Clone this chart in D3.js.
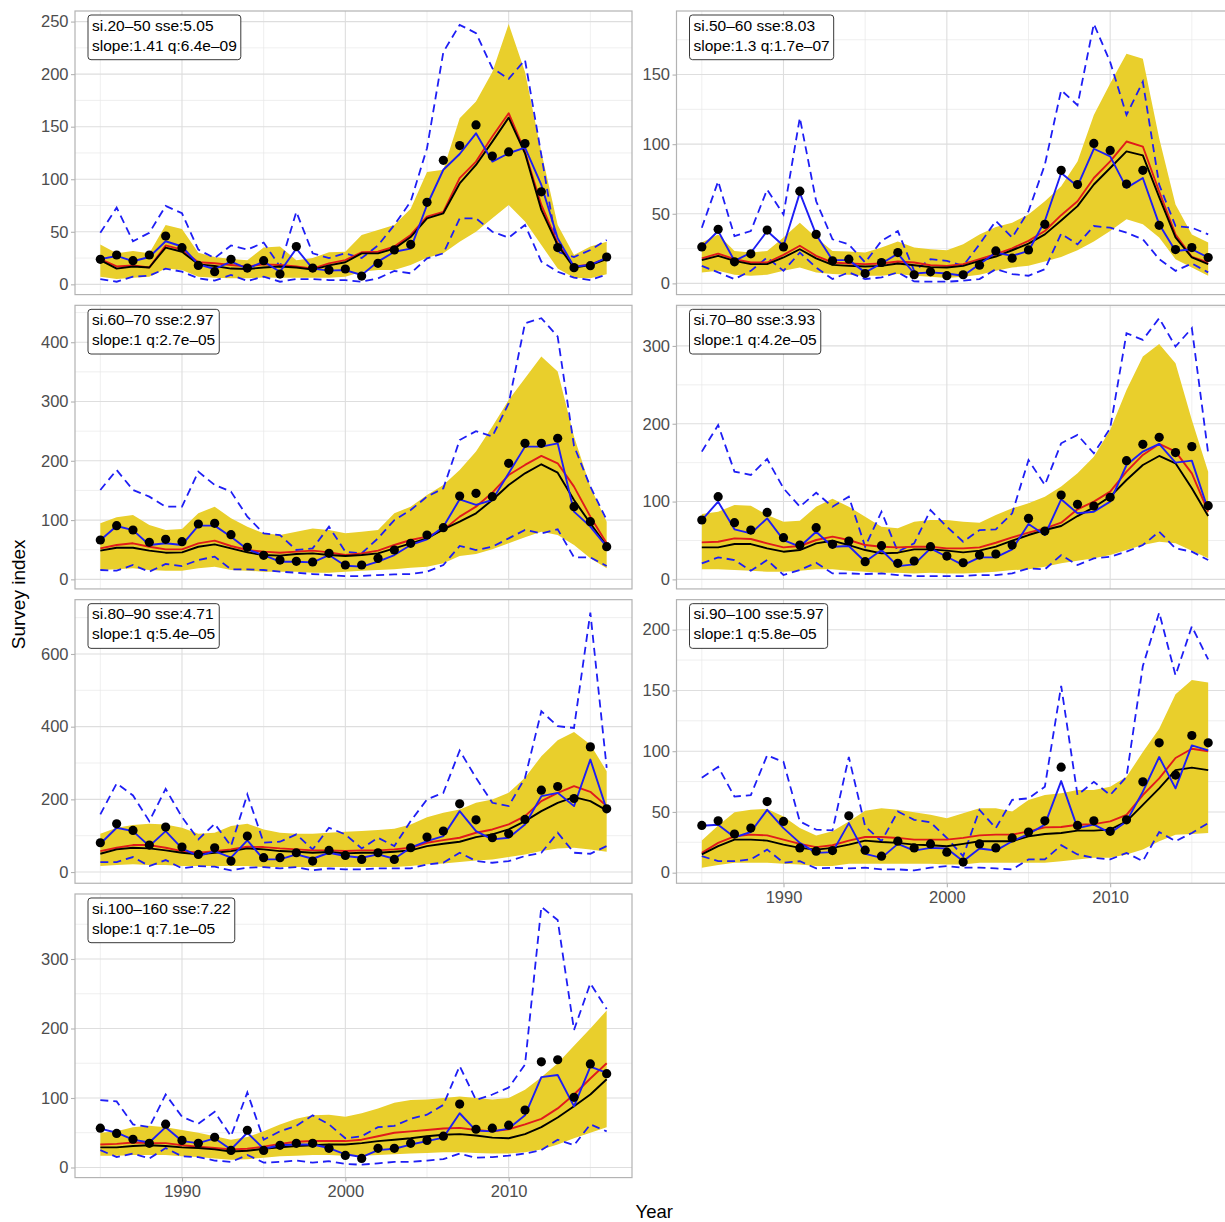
<!DOCTYPE html>
<html>
<head>
<meta charset="utf-8">
<script src="https://cdn.jsdelivr.net/npm/d3@7"></script>
<style>
  html, body { margin: 0; padding: 0; background: #fff; }
  svg { display: block; font-family: "Liberation Sans", Arial, Helvetica, sans-serif; }
</style>
</head>
<body>
<svg id="chart" width="1225" height="1222"></svg>
<script>
// Survey years (x categories)
const years = [1985, 1986, 1987, 1988, 1989, 1990, 1991, 1992, 1993, 1994, 1995, 1996, 1997, 1998, 1999,
               2000, 2001, 2002, 2003, 2004, 2005, 2006, 2007, 2008, 2009, 2010, 2011, 2012, 2013, 2014, 2015, 2016];

// Panel annotations
const labelLine1 = ["si.20–50 sse:5.05", "si.50–60 sse:8.03", "si.60–70 sse:2.97", "si.70–80 sse:3.93",
                    "si.80–90 sse:4.71", "si.90–100 sse:5.97", "si.100–160 sse:7.22"];
const labelLine2 = ["slope:1.41 q:6.4e–09", "slope:1.3 q:1.7e–07", "slope:1 q:2.7e–05", "slope:1 q:4.2e–05",
                    "slope:1 q:5.4e–05", "slope:1 q:5.8e–05", "slope:1 q:7.1e–05"];

// Y-axis breaks per panel
const yTicks1 = [0, 50, 100, 150, 200, 250];
const yTicks2 = [0, 50, 100, 150];
const yTicks3 = [0, 100, 200, 300, 400];
const yTicks4 = [0, 100, 200, 300];
const yTicks5 = [0, 200, 400, 600];
const yTicks6 = [0, 50, 100, 150, 200];
const yTicks7 = [0, 100, 200, 300];

// X-axis breaks
const xMajor = [1990, 2000, 2010];
const xMinor = [1985, 1995, 2005, 2015];

// si.20-50
const obs1 = [23.8,27.9,22.5,27.9,46,34.9,18,12,23.8,15.5,22.5,9.8,35.9,15.5,13.6, 14.6,7.9,20,32.7,38,78,118,132,151.7,122,126,134,88,35,15.9,17.8,26];
const fit1 = [24,27,22,26,41,36,19,14.6,21.6,15,21.6,12,34,15,13, 13.6,8.9,21.6,31,34,75.5,109,124,143.7,116.8,124.7,130,94.6,43.8,16.8,18.4,25.4];
const red1 = [24,17,18,16,37,33,21,20,18.4,17,19,18.4,17,15,20, 23,30.5,31,35.9,47,64.4,69,101,116.8,140.6,162.8,126,75.5,39,16.8,19,24.7];
const black1 = [23,15,17,16,35,31,19,17.5,15,14.6,16,17,16,14,18, 21,29.5,29.5,34,45,62.8,67.6,96,113.6,135.8,158.6,124.7,70.8,37.4,15.9,18.4,24];
const bandHi1 = [38,29.5,31.7,29.5,56.5,52.7,30,26,24,23,35,36,23,25,30.5, 31,47,51.7,56.5,72,107,109,158,174,202,247.8,202,126,56.5,27.9,35.9,40.6];
const bandLo1 = [7.3,5,6.3,7.3,15,13.6,7.3,6.3,5.7,5.7,6.5,6.3,6.3,6.3,6.3, 7.3,12,13.6,13.6,18.4,25.4,29.5,40.6,50,62.8,75.5,59.7,37.4,15,6.3,5.7,9.5];
const dashHi1 = [49,73,41,49,74.6,67.6,33,25,37,33,39.7,17,69,29.5,25, 29.5,25,37,56.5,78.7,129.5,221,246.9,239,205.6,195.5,213.5,123,31,26,32.7,42.2];
const dashLo1 = [5,2.5,7.3,8.2,15,12,5.7,3.5,8.9,3.2,7.3,2.5,5,5,4, 4,2.5,5.7,12.7,10.5,24.7,29.5,62.8,62.8,50,44.4,56.5,21.6,12,6.3,4,9.5];

// si.50-60
const obs2 = [26.2,38.8,15.5,21.2,38.3,26.2,66.2,35.2,16.2,17.4,7.1,15,22.1,6.2,8.3, 5.5,6.2,13.1,23.3,18.1,24,42.4,81.2,71,100.5,95.5,71.4,81.2,41.7,24.3,25.7,18.6];
const fit2 = [26,37.6,16.2,22,37.6,27,65,35,16.7,16.7,7.9,14.3,21.4,7.1,7.9, 7.1,5.5,13.8,22.1,19.8,23.3,44.8,79.3,69.8,96.7,91.2,68.6,75.7,42.4,23.3,24.5,18.6];
const red2 = [18,21.4,17.4,15,15,20.5,27,19.8,15,14.3,13.8,14.3,15.7,15,13, 12.6,13.8,17.4,21,25.2,30.5,37.6,49,59,75.7,87.6,101.9,98.3,66,35,19,15];
const black2 = [16.7,19.8,16.2,13.8,13.8,18.6,24.5,18,13.3,12.6,12.1,12.6,14.3,13,11.7, 11.4,12.6,16.2,19.3,23.8,28.6,35.2,45.2,55.5,71,82.9,94.8,91.9,62,33,18.6,13.8];
const bandHi2 = [29.3,35.2,23.3,22.1,23.3,32.9,43.6,32.9,23.3,22.9,22.1,25.7,30,25.7,24.5, 23.8,28.1,35.2,40.5,43.6,49.5,59,69.8,87.6,121,143.6,165,161.4,104.3,56.7,35.2,29.3];
const bandLo2 = [7.9,9,6.2,5.5,6.2,9,11.4,7.9,6.7,6.2,5.5,5.5,6.7,5.5,4.8, 3.8,4.8,6.2,9,11.4,12.6,15.7,19,23.8,30,37.6,46,42.4,32.9,17.4,11.4,5.5];
const dashHi2 = [40,73.3,34,37.6,67.4,49.5,119,59,31.7,28,15,30.5,37.6,9,17.4, 16.2,12.6,28.1,44.8,32.9,51.9,85.2,138.8,128,186.4,159,121,144.8,71,41.2,40,35.2];
const dashLo2 = [12.6,7.9,3.1,9,18.6,9,22.1,11.4,3.1,7.9,3.1,4.3,7.9,1.4,1.2, 1.2,1.9,3.1,10.2,6.7,5.5,10.2,35.7,28.1,41.2,40,36.4,31.7,17.4,9,14.3,7.9];

// si.60-70
const obs3 = [66.4,90.6,83.3,62.4,67.5,63.6,93.4,94.5,75.4,54,40.5,32.6,30.4,29.3,43.9, 24.2,24.2,35.4,49.5,60.8,74.8,87.2,140.6,145.1,139.5,195.8,229.5,229.5,238,122.6,97.3,55.1];
const fit3 = [66,90,83,58,60.8,58,90.6,90.6,72,50.6,41,29.8,29.8,28.7,41, 23,21.4,29.8,41,58,67.5,88.9,135,125.5,133.9,178.9,223.9,223.9,229.5,114.2,88.9,55.1];
const red3 = [52.3,58,60.8,55,50.6,50.6,60.8,65.3,56.3,49.5,46.7,45,46.7,48.4,45.6, 41,43.9,48.4,58,66.4,72,83.3,105.8,122.6,146.3,176,193,208.2,195.8,156.4,105.8,60.8];
const black3 = [48.4,53.4,53.4,48.4,45,45.6,55,59,52.3,45.6,41,40,42.8,43.9,41, 39.4,41,43.9,52.3,60.8,69.2,84.4,97.3,111.4,133.9,159.2,178.9,194.1,180,133.9,94.5,56.3];
const bandHi3 = [94.5,104.6,108.6,91.7,83.3,85,111.4,122.6,103,88.9,77.6,74.8,80.5,86,83.3, 77.6,80.5,83.3,111.4,122.6,142.3,159.2,184.5,215.5,257.7,302.7,339.2,375.8,350.5,240.8,156.4,97.3];
const bandLo3 = [15.8,16.9,18.6,15.8,14.6,14.6,18.6,21.4,15.8,14.6,12.9,12.9,12.9,11.3,11.3, 12.9,14.6,15.8,16.9,19.7,21.4,27,39.4,42.8,50.6,60.8,70.9,80.5,74.8,58,35.4,18.6];
const dashHi3 = [150.8,184.5,150.8,139.5,122.6,122.6,181.7,159.2,148,105.8,77.6,74.8,49.5,52.3,88.9, 46.7,43.9,69.2,100,117,139.5,153.6,235,250,241,297,432,440.5,409.6,225,156.4,100.1];
const dashLo3 = [15.8,14.6,24.2,12.9,25.9,22.5,32.6,38.3,16.9,16.9,15.8,12.9,11.3,9,7.3, 5.6,5.6,7.3,8.4,9,12.9,24.2,56.3,49.5,55,69.2,83.3,77.6,84.4,37.1,37.1,22.5];

// si.70-80
const obs4 = [76.3,106.3,72.9,63.4,86.1,53.6,44.1,66.4,45,49.3,22.7,43.3,20.6,23.6,42, 30,21.4,31.3,32.6,44.1,78.4,62.1,108.4,96.4,94.3,105.4,152.6,173.6,182.6,162.9,170.6,94.7];
const fit4 = [76.3,99.9,64.3,59.1,78.4,50.6,42,61.3,42,42.9,22.7,37.7,17.1,19.3,39.9, 29.1,18.4,28.3,28.3,38.6,71.2,57,102.9,84.9,87,99.9,147,164.2,174,150,152.6,89.2];
const red4 = [47.6,48.4,52.7,51.9,46.3,41.1,42.9,50.6,54.9,50.6,44.1,42,41.1,42,42, 39.9,39.9,41.1,47.1,54,60,65.6,72.9,90,99.9,112.7,138.4,159.9,174,164.2,136.3,87];
const black4 = [41.1,41.1,45.4,45.4,39.9,35.6,37.7,46.3,49.7,44.1,37.7,33.4,34.3,38.6,38.6, 36.9,34.7,36.9,42,49.7,57,63.4,68.6,81.4,92.6,106.3,127.7,147,158.6,149.2,117,81.4];
const bandHi4 = [84,87,95.6,94.7,82.7,74.2,75.4,93.4,103.7,93.4,80.6,67.7,65.6,74.2,76.3, 76.3,74.2,72.9,82.7,91.3,97.7,106.3,119.2,136.3,157.7,192,243.5,286.3,302.6,277.8,204.9,138.4];
const bandLo4 = [12.9,12.9,12,11.1,9.9,9.9,11.1,12.9,12.9,11.1,9.9,8.6,8.6,7.7,8.6, 7.7,7.7,8.6,9.9,12,12.9,16.3,20.6,24,27,31.3,37.7,44.1,48.4,46.3,36.9,27];
const dashHi4 = [164.2,198.4,138.4,134.2,154.7,117,93.4,111.4,93.4,106.3,42,87,35.6,46.3,89, 67.7,48.4,63.4,64.3,84.9,153.4,121.3,174.9,185.6,162,194.2,316.3,307.8,335.6,299.2,322.8,162];
const dashLo4 = [20.6,28.3,24.9,11.1,24.9,5.6,12,21.4,7.7,7.7,6.9,7.7,5.6,4.3,4.3, 4.3,4.3,5.6,5.6,7.7,14.1,12.9,31.3,18.4,27,29.1,35.6,44.1,61.3,39.9,35.6,24.9];

// si.80-90
const obs5 = [80.6,132.8,114.5,74.2,123.7,68.7,48.5,66.9,30.2,98.9,39.4,39.4,53.1,30.2,59.5, 45.8,34.8,53.1,34.8,66.9,96.2,112.7,187.8,143.8,94.3,105.3,144.7,225.3,235.4,202.4,344.4,174];
const fit5 = [77.9,121.8,112.7,71.4,112.7,65,44,57.7,39.4,87,34.8,34.8,48.5,36.6,53.1, 44,39.4,48.5,36.6,66.9,85.2,98.9,167.6,112.7,89.8,94.3,131,208.8,218,181.4,309.6,172.2];
const red5 = [57.7,66.9,74.2,74.2,66.9,57.7,53.1,57.7,62.3,69.6,68.7,65,62.3,59.5,59.5, 57.7,59.5,59.5,62.3,66.9,80.6,87.9,94.3,108.1,117.2,131,153.9,195.1,218,236.3,220.8,181.4];
const black5 = [50.4,62.3,66.9,65,59.5,53.1,48.5,53.1,57.7,65,62.3,57.7,55.9,53.1,55, 51.3,53.1,53.1,55.9,59.5,71.4,77.9,83.4,96.2,103.5,117.2,140.1,167.6,190.5,206.1,195.1,169.5];
const bandHi5 = [105.3,121.8,129.2,132.8,131,121.8,105.3,108.1,126.4,132.8,117.2,108.1,105.3,105.3,108.1, 110.8,112.7,115.4,119.1,131,151.1,163,172.2,190.5,199.7,218,259.2,318.8,362.7,385.6,350.8,277.5];
const bandLo5 = [16.5,19.2,21.1,19.2,19.2,16.5,16.5,16.5,16.5,16.5,13.7,13.7,13.7,13.7,13.7, 13.7,13.7,13.7,13.7,16.5,21.1,23.8,27.5,32.1,34.8,41.2,48.5,57.7,65,66.9,62.3,55.9];
const dashHi5 = [158.5,243.7,210.7,140.1,229,151.1,89.8,132.8,71.4,213.4,80.6,83.4,103.5,62.3,121.8, 103.5,65,94.3,71.4,140.1,199.7,218,334.3,259.2,190.5,181.4,259.2,442.4,401.2,396.6,714,286.7];
const dashLo5 = [27.5,27.5,41.2,16.5,33,10.1,16.5,14.7,4.6,11.9,13.7,10.1,13.7,4.6,10.1, 7.3,7.3,10.1,10.1,10.1,21.1,25.6,53.1,30.2,25.6,30.2,44,53.1,108.1,53.1,50.4,71.4];

// si.90-100
const obs6 = [38.9,42.7,31.8,36.7,58.5,42.2,20.4,17.7,18.2,46.8,18.5,13.6,25.9,20.4,23.7, 16.9,8.7,23.7,20.4,28.6,33.5,42.7,86.8,38.9,42.7,34,43.5,74.8,106.9,80.3,112.9,106.9];
const fit6 = [38.6,39.5,29.1,33.5,51.7,36.7,24.5,16.3,16.9,40.8,15.5,12.2,23.7,18.2,20.4, 19.9,9.5,19.9,18.2,25.9,31.8,39.5,75.4,36.7,39.5,32.7,42.2,66.7,95.2,69.4,104.8,100.7];
const red6 = [16.3,24.5,29.9,31.3,30.7,27.2,23.7,21,22.6,26.4,29.4,29.4,28.6,27.2,27.2, 27.2,28.6,30.7,31.3,31.3,34,37.3,37.6,39.5,40,42.2,47.6,63.9,77.6,94.4,102,99.9];
const black6 = [15,21.8,27.2,27.2,26.4,23.1,20.4,19,20.4,23.1,26.4,25.3,24.5,23.1,22.6, 21.8,23.7,25.9,25.9,25.9,29.9,31.8,32.7,34.6,34.6,35.4,42.2,55.8,69.4,84.4,86.5,84.4];
const bandHi6 = [26.4,38.9,49.8,51.7,52.5,46.3,36.7,30.7,34,42.2,50.9,53.1,51.7,49.8,47.6, 44.9,49,53.1,53.1,50.3,59.9,63.9,65.3,68,68,70.7,78.9,99.3,118.4,146.9,158.6,156.5];
const bandLo6 = [4.1,6.3,8.2,8.2,8.2,7.3,6.8,5.4,5.4,7.3,7.3,7.3,7.3,7.3,7.3, 6.8,6.8,8.2,8.2,8.2,8.2,8.2,9.5,10.9,12.2,12.2,15,19,25.9,31.3,31.8,32.7];
const dashHi6 = [78.1,87.1,62.6,63.9,96.6,91.2,42.2,35.4,34.8,95.2,38.1,25.9,50.3,43.5,41.4, 28.6,13.6,51.7,36.7,59.9,61.2,70.7,153.7,63.9,74.8,63.9,78.9,170.1,214.1,162.4,202.7,175.5];
const dashLo6 = [13.6,9.5,9.5,10.9,19,8.2,9.5,3.5,4.1,3.5,4.1,2.7,2.7,1.9,4.1, 5.4,4.1,4.1,3.5,2.7,10.9,10.9,22.6,15,12.2,10.9,16.3,9.5,33.5,25.9,32.7,40.8];

// si.100-160
const obs7 = [56.5,49,40.6,34.8,62.3,39,34.8,43.5,24.6,53.6,24.6,31.9,34.8,34.8,27.5, 17.4,13,27.5,27.5,34.8,39,45,91.3,55,56.5,60.9,82.6,152,155,101,149,135];
const fit7 = [56,50,40,36,58,38,35,42,26,50,27,32,33,33,28, 19,15,25,27,33,38,43,78,53,52,56,75,130,133,88,145,136];
const red7 = [33,34,36,35,35,32,30,28,26,27,30,34,37,38,38, 38,40,45,50,52,54,56,57,54,52,55,62,70,85,105,128,150];
const black7 = [29,29,31,32,31,29,28,26,23,24,27,29,31,32,33, 33,35,38,40,42,45,47,48,46,43,42,48,58,72,88,105,127];
const bandHi7 = [50,52,58,60,58,54,50,45,40,44,52,62,70,75,76, 73,78,85,93,97,98,100,102,100,98,100,112,130,150,175,200,226];
const bandLo7 = [17,17,18,18,18,16,15,13,11,12,14,16,17,18,18, 17,17,18,19,20,21,22,22,21,20,20,22,26,33,42,50,58];
const dashHi7 = [97,95,62,58,105,73,63,80,45,108,40,52,60,75,62, 42,45,58,60,70,76,90,146,97,105,115,148,375,356,198,265,228];
const dashLo7 = [25,15,20,13,28,16,15,10,8,18,7,8,10,7,9, 5,4,6,8,8,10,12,20,14,15,17,20,25,40,32,62,52];

// Assemble panel table from the arrays above
const panels = [
  { l1: labelLine1[0], l2: labelLine2[0], ticks: yTicks1, obs: obs1, fit: fit1, red: red1, black: black1, bandHi: bandHi1, bandLo: bandLo1, dashHi: dashHi1, dashLo: dashLo1 },
  { l1: labelLine1[1], l2: labelLine2[1], ticks: yTicks2, obs: obs2, fit: fit2, red: red2, black: black2, bandHi: bandHi2, bandLo: bandLo2, dashHi: dashHi2, dashLo: dashLo2 },
  { l1: labelLine1[2], l2: labelLine2[2], ticks: yTicks3, obs: obs3, fit: fit3, red: red3, black: black3, bandHi: bandHi3, bandLo: bandLo3, dashHi: dashHi3, dashLo: dashLo3 },
  { l1: labelLine1[3], l2: labelLine2[3], ticks: yTicks4, obs: obs4, fit: fit4, red: red4, black: black4, bandHi: bandHi4, bandLo: bandLo4, dashHi: dashHi4, dashLo: dashLo4 },
  { l1: labelLine1[4], l2: labelLine2[4], ticks: yTicks5, obs: obs5, fit: fit5, red: red5, black: black5, bandHi: bandHi5, bandLo: bandLo5, dashHi: dashHi5, dashLo: dashLo5 },
  { l1: labelLine1[5], l2: labelLine2[5], ticks: yTicks6, obs: obs6, fit: fit6, red: red6, black: black6, bandHi: bandHi6, bandLo: bandLo6, dashHi: dashHi6, dashLo: dashLo6 },
  { l1: labelLine1[6], l2: labelLine2[6], ticks: yTicks7, obs: obs7, fit: fit7, red: red7, black: black7, bandHi: bandHi7, bandLo: bandLo7, dashHi: dashHi7, dashLo: dashLo7 }
];

// ---- layout ----
const svg = d3.select("#chart");
const panelW = 557, panelH = 283.6;
const colX = [75, 676.5];
const rowY = r => 11 + r * 294.33;
const nCols = 2, nRows = 4;
const FONT = "Liberation Sans, Arial, Helvetica, sans-serif";

const COLORS = {
  band: "#E9CF2C",
  blue: "#1E1EF5",
  red: "#E01B1B",
  black: "#000000",
  gridMajor: "#DEDEDE",
  gridMinor: "#E8E8E8",
  border: "#B3B3B3",
  axisText: "#4D4D4D"
};

const yrMin = d3.min(years), yrMax = d3.max(years);
const yrPad = (yrMax - yrMin) * 0.05;

panels.forEach((p, i) => {
  const col = i % nCols, row = Math.floor(i / nCols);
  const left = colX[col], top = rowY(row);
  const bottom = top + panelH, right = left + panelW;

  const x = d3.scaleLinear().domain([yrMin - yrPad, yrMax + yrPad]).range([left, right]);
  const allVals = [].concat(p.obs, p.fit, p.red, p.black, p.bandHi, p.bandLo, p.dashHi, p.dashLo);
  const [vMin, vMax] = d3.extent(allVals);
  const vPad = (vMax - vMin) * 0.05;
  const y = d3.scaleLinear().domain([vMin - vPad, vMax + vPad]).range([bottom, top]);

  const g = svg.append("g").attr("class", "panel");

  // background
  g.append("rect").attr("x", left).attr("y", top).attr("width", panelW).attr("height", panelH).attr("fill", "#fff");

  // minor y grid: midway between breaks, within limits
  const step = p.ticks[1] - p.ticks[0];
  const yMinor = [];
  for (let v = p.ticks[0] - step / 2; v <= p.ticks[p.ticks.length - 1] + step / 2 + 1e-9; v += step) {
    if (v >= y.domain()[0] && v <= y.domain()[1]) yMinor.push(v);
  }
  const grid = g.append("g").attr("class", "grid");
  grid.selectAll("line.ymin").data(yMinor).join("line").attr("class", "ymin")
    .attr("x1", left).attr("x2", right).attr("y1", d => y(d)).attr("y2", d => y(d))
    .attr("stroke", COLORS.gridMinor).attr("stroke-width", 0.7);
  grid.selectAll("line.xmin").data(xMinor).join("line").attr("class", "xmin")
    .attr("y1", top).attr("y2", bottom).attr("x1", d => x(d)).attr("x2", d => x(d))
    .attr("stroke", COLORS.gridMinor).attr("stroke-width", 0.7);
  grid.selectAll("line.ymaj").data(p.ticks).join("line").attr("class", "ymaj")
    .attr("x1", left).attr("x2", right).attr("y1", d => y(d)).attr("y2", d => y(d))
    .attr("stroke", COLORS.gridMajor).attr("stroke-width", 1.1);
  grid.selectAll("line.xmaj").data(xMajor).join("line").attr("class", "xmaj")
    .attr("y1", top).attr("y2", bottom).attr("x1", d => x(d)).attr("x2", d => x(d))
    .attr("stroke", COLORS.gridMajor).attr("stroke-width", 1.1);

  // clip for data layers
  const clipId = "clip-" + i;
  svg.append("clipPath").attr("id", clipId)
    .append("rect").attr("x", left).attr("y", top).attr("width", panelW).attr("height", panelH);
  const data = g.append("g").attr("clip-path", `url(#${clipId})`);

  const idx = d3.range(years.length);
  const lineOf = arr => d3.line().x(k => x(years[k])).y(k => y(arr[k]))(idx);

  // uncertainty band
  data.append("path")
    .attr("d", d3.area().x(k => x(years[k])).y0(k => y(p.bandLo[k])).y1(k => y(p.bandHi[k]))(idx))
    .attr("fill", COLORS.band);

  // dashed interval lines
  [p.dashHi, p.dashLo].forEach(arr => {
    data.append("path").attr("d", lineOf(arr))
      .attr("fill", "none").attr("stroke", COLORS.blue).attr("stroke-width", 1.8)
      .attr("stroke-dasharray", "8,5");
  });

  // model lines
  data.append("path").attr("d", lineOf(p.red)).attr("fill", "none")
    .attr("stroke", COLORS.red).attr("stroke-width", 1.9).attr("stroke-linejoin", "round");
  data.append("path").attr("d", lineOf(p.black)).attr("fill", "none")
    .attr("stroke", COLORS.black).attr("stroke-width", 1.9).attr("stroke-linejoin", "round");
  data.append("path").attr("d", lineOf(p.fit)).attr("fill", "none")
    .attr("stroke", COLORS.blue).attr("stroke-width", 1.9).attr("stroke-linejoin", "round");

  // observed index
  data.selectAll("circle").data(idx).join("circle")
    .attr("cx", k => x(years[k])).attr("cy", k => y(p.obs[k])).attr("r", 4.6)
    .attr("fill", "#000");

  // panel border
  g.append("rect").attr("x", left).attr("y", top).attr("width", panelW).attr("height", panelH)
    .attr("fill", "none").attr("stroke", COLORS.border).attr("stroke-width", 1.2);

  // y axis
  const yAxis = g.append("g").attr("transform", `translate(${left},0)`)
    .call(d3.axisLeft(y).tickValues(p.ticks).tickSize(4).tickPadding(2.5));
  yAxis.select(".domain").remove();
  yAxis.selectAll(".tick line").attr("stroke", COLORS.border).attr("stroke-width", 1.1);
  yAxis.selectAll(".tick text").attr("fill", COLORS.axisText)
    .attr("font-size", 16.5).attr("font-family", FONT);

  // x axis only on the lowest panel of each column
  const isBottom = (i + nCols >= panels.length);
  if (isBottom) {
    const xAxis = g.append("g").attr("transform", `translate(0,${bottom})`)
      .call(d3.axisBottom(x).tickValues(xMajor).tickFormat(d3.format("d")).tickSize(4).tickPadding(4));
    xAxis.select(".domain").remove();
    xAxis.selectAll(".tick line").attr("stroke", COLORS.border).attr("stroke-width", 1.1);
    xAxis.selectAll(".tick text").attr("fill", COLORS.axisText)
      .attr("font-size", 16.5).attr("font-family", FONT);
  }

  // annotation label
  const lab = g.append("g").attr("transform", `translate(${left + 13},${top + 4})`);
  const box = lab.append("rect").attr("rx", 3).attr("ry", 3)
    .attr("fill", "#fff").attr("stroke", "#222").attr("stroke-width", 0.9);
  const t1 = lab.append("text").attr("x", 4).attr("y", 15.7).attr("font-size", 15.5).attr("fill", "#000").text(p.l1);
  const t2 = lab.append("text").attr("x", 4).attr("y", 35.7).attr("font-size", 15.5).attr("fill", "#000").text(p.l2);
  const w = Math.max(t1.node().getComputedTextLength(), t2.node().getComputedTextLength());
  box.attr("x", 0).attr("y", 0).attr("width", w + 8).attr("height", 44.7);
});

// axis titles
const plotLeft = colX[0], plotRight = colX[1] + panelW;
svg.append("text")
  .attr("x", (plotLeft + plotRight) / 2).attr("y", 1218)
  .attr("text-anchor", "middle").attr("font-size", 18.5).attr("fill", "#000")
  .text("Year");
svg.append("text")
  .attr("transform", `translate(25,${(rowY(0) + rowY(nRows - 1) + panelH) / 2}) rotate(-90)`)
  .attr("text-anchor", "middle").attr("font-size", 19).attr("fill", "#000")
  .text("Survey index");
</script>
</body>
</html>
